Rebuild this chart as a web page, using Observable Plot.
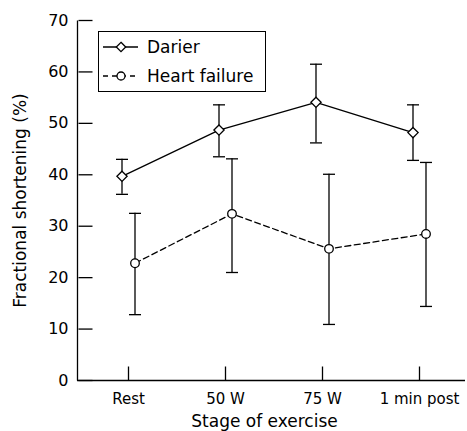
<!DOCTYPE html>
<html><head><meta charset="utf-8">
<script src="https://cdn.jsdelivr.net/npm/d3@7"></script>
<script src="https://cdn.jsdelivr.net/npm/@observablehq/plot@0.6"></script>
<style>
body{margin:0;background:#fff;}
#wrap{position:relative;width:467px;height:431px;font-family:"DejaVu Sans", sans-serif;color:#000;}
#legend{position:absolute;left:98px;top:31px;width:168px;height:61px;border:1px solid #000;box-sizing:border-box;background:#fff;}
#legend .row{position:absolute;left:0;height:24px;width:100%;}
#legend .row span{position:absolute;left:48px;top:0;font-size:17px;line-height:24px;white-space:nowrap;}
#legend svg{position:absolute;left:4px;top:0;}
</style></head><body><div id="wrap"></div>
<script>
const stages = ["Rest", "50 W", "75 W", "1 min post"];
const darierMean = [39.7, 48.7, 54.1, 48.2];
const darierHi = [43.0, 53.6, 61.5, 53.6];
const darierLo = [36.2, 43.5, 46.2, 42.8];
const hfMean = [22.8, 32.4, 25.6, 28.5];
const hfHi = [32.5, 43.1, 40.1, 42.4];
const hfLo = [12.8, 21.0, 10.9, 14.4];
const yTicks = [0, 10, 20, 30, 40, 50, 60, 70];
const seriesNames = ["Darier", "Heart failure"];
const xTitle = "Stage of exercise";
const yTitle = "Fractional shortening (%)";

const D = stages.map((s, i) => ({stage: s, m: darierMean[i], lo: darierLo[i], hi: darierHi[i]}));
const HF = stages.map((s, i) => ({stage: s, m: hfMean[i], lo: hfLo[i], hi: hfHi[i]}));
const W = 467, Hh = 431, mL = 77, mT = 20, mB = 51, mR = 2;
const xRange = [127, 420];
const tickLen = 14;
const off = 6.5;
const sw = 1.3;
const capSymbol = {draw(ctx) { ctx.moveTo(-6, 0); ctx.lineTo(6, 0); }};
const halfH = (Hh - mT - mB) / 2;
const vAxisSymbol = {draw(ctx) { ctx.moveTo(0, -halfH); ctx.lineTo(0, halfH); }};
const yOff = mL - xRange[0];
const yTickSymbol = {draw(ctx) { ctx.moveTo(yOff, 0); ctx.lineTo(yOff + tickLen, 0); }};
const xTickSymbol = {draw(ctx) { ctx.moveTo(0, 0); ctx.lineTo(0, -tickLen); }};

const chart = Plot.plot({
  width: W, height: Hh,
  marginLeft: mL, marginTop: mT, marginBottom: mB, marginRight: mR,
  style: {fontFamily: "'DejaVu Sans', sans-serif", fontSize: "16px", color: "#000", background: "#fff"},
  x: {type: "point", domain: stages, range: xRange, padding: 0},
  y: {domain: [0, 70]},
  marks: [
    Plot.ruleY([0], {stroke: "#000", strokeWidth: sw}),
    Plot.dot([0], {frameAnchor: "left", symbol: vAxisSymbol, fill: "none", stroke: "#000", strokeWidth: sw}),
    Plot.axisY({ticks: yTicks, tickSize: 0, tickPadding: 9, fontSize: 16, label: null}),
    Plot.dot(yTicks.map(v => ({v})), {x: () => stages[0], y: "v", symbol: yTickSymbol, fill: "none", stroke: "#000", strokeWidth: sw}),
    Plot.text([yTitle], {frameAnchor: "left", rotate: -90, dx: -64, lineAnchor: "top", textAnchor: "middle", fontSize: 17}),
    Plot.axisX({tickSize: 0, tickPadding: 13, fontSize: 15, label: null}),
    Plot.dot(D, {x: "stage", y: () => 0, symbol: xTickSymbol, fill: "none", stroke: "#000", strokeWidth: sw}),
    Plot.text([xTitle], {frameAnchor: "bottom", dy: 46, dx: -7, lineAnchor: "bottom", fontSize: 17}),
    Plot.line(D, {x: "stage", y: "m", dx: -off, stroke: "#000", strokeWidth: sw}),
    Plot.line(HF, {x: "stage", y: "m", dx: off, stroke: "#000", strokeWidth: sw, strokeDasharray: "6,3.5"}),
    Plot.ruleX(D, {x: "stage", y1: "lo", y2: "hi", dx: -off, stroke: "#000", strokeWidth: sw}),
    Plot.ruleX(HF, {x: "stage", y1: "lo", y2: "hi", dx: off, stroke: "#000", strokeWidth: sw}),
    Plot.dot(D, {x: "stage", y: "lo", dx: -off, symbol: capSymbol, fill: "none", stroke: "#000", strokeWidth: sw}),
    Plot.dot(D, {x: "stage", y: "hi", dx: -off, symbol: capSymbol, fill: "none", stroke: "#000", strokeWidth: sw}),
    Plot.dot(HF, {x: "stage", y: "lo", dx: off, symbol: capSymbol, fill: "none", stroke: "#000", strokeWidth: sw}),
    Plot.dot(HF, {x: "stage", y: "hi", dx: off, symbol: capSymbol, fill: "none", stroke: "#000", strokeWidth: sw}),
    Plot.dot(D, {x: "stage", y: "m", dx: -off, symbol: "diamond2", r: 4.6, fill: "#fff", stroke: "#000", strokeWidth: sw}),
    Plot.dot(HF, {x: "stage", y: "m", dx: off, symbol: "circle", r: 4.3, fill: "#fff", stroke: "#000", strokeWidth: sw})
  ]
});
const wrap = document.getElementById("wrap");
wrap.appendChild(chart);

const leg = document.createElement("div");
leg.id = "legend";
leg.innerHTML = `
<div class="row" style="top:3px">
  <svg width="40" height="24"><line x1="0" x2="35" y1="12" y2="12" stroke="#000" stroke-width="1.3"/>
  <path d="M18,7.3 L22.7,12 L18,16.7 L13.3,12 Z" fill="#fff" stroke="#000" stroke-width="1.3"/></svg>
  <span>${seriesNames[0]}</span></div>
<div class="row" style="top:32px">
  <svg width="40" height="24"><line x1="0" x2="35" y1="12" y2="12" stroke="#000" stroke-width="1.3" stroke-dasharray="5,4"/>
  <circle cx="18" cy="12" r="4" fill="#fff" stroke="#000" stroke-width="1.3"/></svg>
  <span>${seriesNames[1]}</span></div>`;
wrap.appendChild(leg);
</script></body></html>
